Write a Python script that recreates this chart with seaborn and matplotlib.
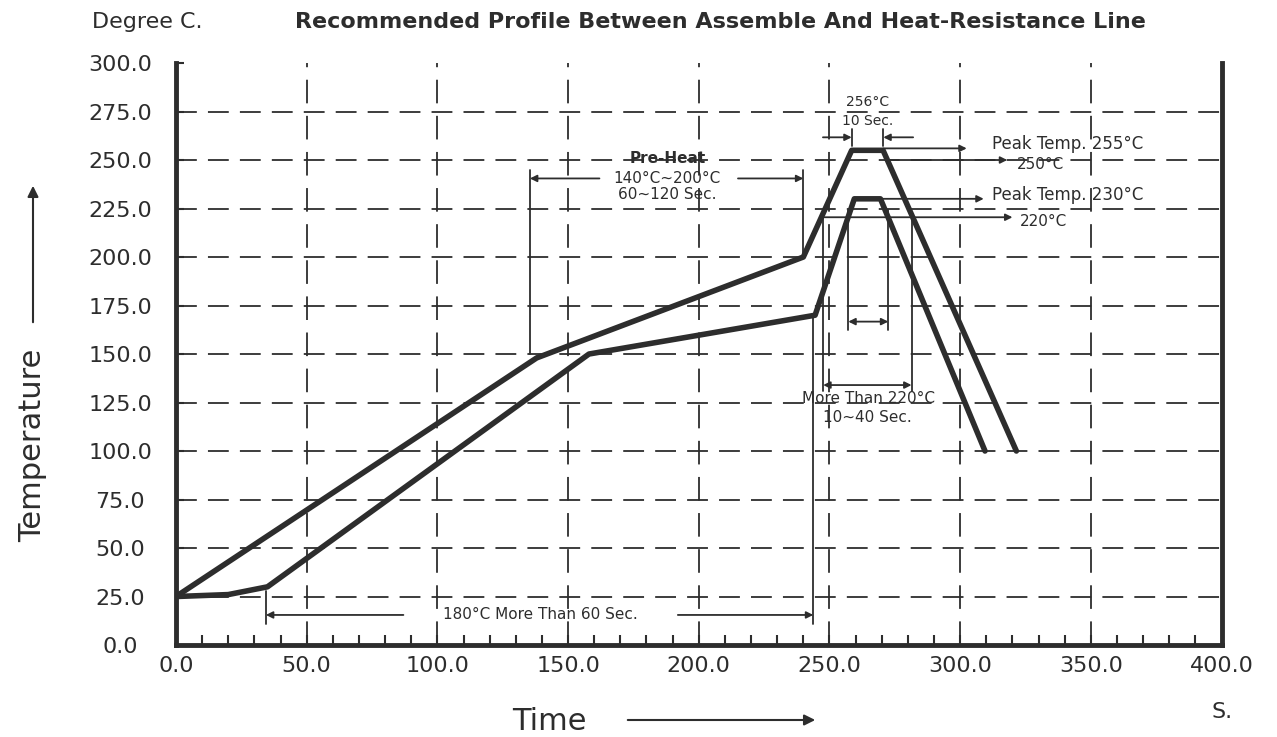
import numpy as np
import pandas as pd
import matplotlib
matplotlib.use("Agg")
import matplotlib.pyplot as plt
import seaborn as sns
from matplotlib.ticker import MultipleLocator, FormatStrFormatter

# profile data (time in s, temperature in deg C)
assemble_time = [0, 138, 240, 258.5, 270.5, 321.5]
assemble_temp = [25, 148, 200, 255, 255, 100]
heatres_time = [0, 20, 35, 158, 244.5, 259.5, 269.5, 309.5]
heatres_temp = [25, 26, 30, 150, 170, 230, 230, 100]

x_ticks = [0, 50, 100, 150, 200, 250, 300, 350, 400]
y_ticks = [0, 25, 50, 75, 100, 125, 150, 175, 200, 225, 250, 275, 300]

upper = pd.DataFrame({"Time": assemble_time, "Temp": assemble_temp})
lower = pd.DataFrame({"Time": heatres_time, "Temp": heatres_temp})

sns.set_theme(style="white")
sns.set_style("ticks")
plt.rcParams["font.family"] = ["DejaVu Sans"]
plt.rcParams["lines.scale_dashes"] = False

ink = "#2d2d2d"
fig = plt.figure(figsize=(12.77, 7.37), dpi=100)
ax = fig.add_axes([0.1378, 0.1248, 0.8188, 0.7897])

# grid
for yv in y_ticks[1:-1]:
    ax.axhline(yv, color=ink, lw=1.3, ls=(0, (15, 8)), zorder=1)
for xv in x_ticks[1:-1]:
    ax.axvline(xv, color=ink, lw=1.3, ls=(0, (17, 9)), zorder=1)

sns.lineplot(x="Time", y="Temp", data=upper, sort=False, color=ink, lw=4, ax=ax, zorder=5)
sns.lineplot(x="Time", y="Temp", data=lower, sort=False, color=ink, lw=4, ax=ax, zorder=5)

ax.set_xlim(0, 400)
ax.set_ylim(0, 300)
ax.set_xticks(x_ticks)
ax.set_yticks(y_ticks)
ax.xaxis.set_minor_locator(MultipleLocator(10))
ax.xaxis.set_major_formatter(FormatStrFormatter("%.1f"))
ax.yaxis.set_major_formatter(FormatStrFormatter("%.1f"))
ax.set_xlabel("")
ax.set_ylabel("")
ax.tick_params(axis="x", which="both", direction="in", length=7, width=1.5,
               labelsize=16, pad=8, colors=ink)
ax.tick_params(axis="y", which="both", direction="in", length=6, width=1.5,
               labelsize=16, pad=40, colors=ink)
for lab in ax.get_yticklabels():
    lab.set_ha("center")
for s in ["left", "bottom", "right"]:
    ax.spines[s].set_linewidth(3.5)
    ax.spines[s].set_color(ink)
ax.spines["top"].set_visible(False)

# helpers for the thin annotation lines
def seg(x1, y1, x2, y2):
    ax.plot([x1, x2], [y1, y2], color=ink, lw=1.3, zorder=4)

def arrow(x1, y1, x2, y2, style="-|>"):
    ax.annotate("", xy=(x2, y2), xytext=(x1, y1),
                arrowprops=dict(arrowstyle=style, color=ink, lw=1.3,
                                mutation_scale=10, shrinkA=0, shrinkB=0), zorder=4)

fs = 11
# pre-heat bracket
seg(135.4, 150, 135.4, 245)
seg(240, 200, 240, 245)
arrow(162, 240.5, 135.4, 240.5)
arrow(215, 240.5, 240, 240.5)
ax.text(188, 251, "Pre-Heat", ha="center", va="center", fontsize=fs, color=ink, weight="bold")
ax.text(188, 240.5, "140°C~200°C", ha="center", va="center", fontsize=fs, color=ink)
ax.text(188, 232, "60~120 Sec.", ha="center", va="center", fontsize=fs, color=ink)

# top peak width
ax.text(264.5, 280, "256°C", ha="center", va="center", fontsize=10, color=ink)
ax.text(264.5, 270, "10 Sec.", ha="center", va="center", fontsize=10, color=ink)
seg(258.5, 257, 258.5, 266)
seg(270.6, 257, 270.6, 266)
arrow(247.5, 261.7, 258.5, 261.7)
arrow(282, 261.7, 270.6, 261.7)

# leaders on the right
arrow(270.6, 256, 302.5, 256)
ax.text(312, 258.5, "Peak Temp. 255°C", ha="left", va="center", fontsize=12, color=ink)
arrow(272, 250, 318, 250)
ax.text(321.5, 247.5, "250°C", ha="left", va="center", fontsize=11, color=ink)
arrow(269.5, 230, 309, 230)
ax.text(312, 232, "Peak Temp. 230°C", ha="left", va="center", fontsize=12, color=ink)
arrow(247.6, 220.5, 320, 220.5)
ax.text(323, 218.5, "220°C", ha="left", va="center", fontsize=11, color=ink)

# more than 220 deg C
seg(247.6, 220.5, 247.6, 131)
seg(281.4, 220.5, 281.4, 131)
arrow(247.6, 134, 281.4, 134, "<|-|>")
ax.text(264.8, 127, "More Than 220°C", ha="center", va="center", fontsize=fs, color=ink)
ax.text(264.5, 117.5, "10~40 Sec.", ha="center", va="center", fontsize=fs, color=ink)

# lower peak width
seg(257.2, 224, 257.2, 162.5)
seg(272.5, 224, 272.5, 162.5)
arrow(257.2, 166.7, 272.5, 166.7, "<|-|>")

# 180 deg C more than 60 sec
seg(34.4, 28, 34.4, 11)
seg(243.8, 169, 243.8, 11)
arrow(87, 15.5, 34.4, 15.5)
arrow(192, 15.5, 243.8, 15.5)
ax.text(139.5, 15.5, "180°C More Than 60 Sec.", ha="center", va="center", fontsize=fs, color=ink)

# titles and axis labels
fig.text(92 / 1277, 1 - 22 / 737, "Degree C.", ha="left", va="center", fontsize=16, color=ink)
fig.text(720 / 1277, 1 - 22 / 737, "Recommended Profile Between Assemble And Heat-Resistance Line",
         ha="center", va="center", fontsize=16, weight="bold", color=ink)
fig.text(33 / 1277, 1 - 445 / 737, "Temperature", rotation=90, ha="center", va="center",
         fontsize=22, color=ink)
fig.text(549 / 1277, 1 - 722 / 737, "Time", ha="center", va="center", fontsize=22, color=ink)
fig.text(1222 / 1277, 1 - 712 / 737, "S.", ha="center", va="center", fontsize=16, color=ink)
fig.patches.append(matplotlib.patches.FancyArrowPatch(
    (33 / 1277, 1 - 325 / 737), (33 / 1277, 1 - 183 / 737), transform=fig.transFigure,
    arrowstyle="-|>", mutation_scale=16, color=ink, lw=1.5))
fig.patches.append(matplotlib.patches.FancyArrowPatch(
    (625 / 1277, 1 - 720 / 737), (818 / 1277, 1 - 720 / 737), transform=fig.transFigure,
    arrowstyle="-|>", mutation_scale=16, color=ink, lw=1.5))

fig.savefig("out.png", dpi=100, facecolor="white")
